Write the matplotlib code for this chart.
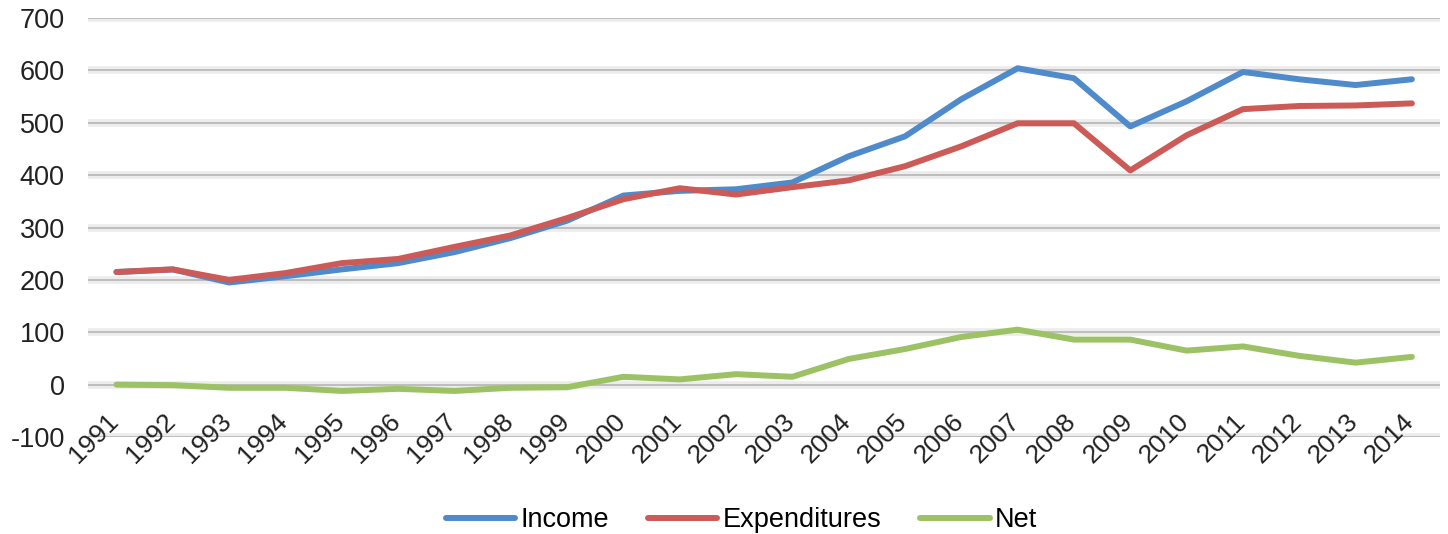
import matplotlib
matplotlib.use("Agg")
import matplotlib.pyplot as plt
import matplotlib.transforms as mtransforms
import numpy as np

years = [str(y) for y in range(1991, 2015)]
income = [215, 220, 195, 207, 220, 232, 253, 280, 313, 361, 370, 373,
          386, 436, 474, 545, 604, 585, 493, 541, 597, 583, 572, 583]
expenditures = [215, 220, 200, 213, 232, 240, 263, 285, 318, 354, 375, 363,
                377, 390, 417, 455, 499, 499, 409, 476, 526, 532, 533, 537]
net = [0, -1, -6, -6, -12, -8, -12, -6, -5, 15, 10, 20,
       15, 49, 68, 91, 105, 86, 86, 65, 73, 55, 42, 53]
y_ticks = [-100, 0, 100, 200, 300, 400, 500, 600, 700]

plt.rcParams["font.family"] = ["Liberation Sans", "DejaVu Sans"]

fig = plt.figure(figsize=(14.48, 5.34), dpi=100)
ax = fig.add_axes([0.061, 0.1816, 0.9335, 0.7847])

x = np.arange(len(years))
ax.set_xlim(-0.5, len(years) - 0.5)
ax.set_ylim(-100, 700)

# soft two-tone gridlines
for v in y_ticks:
    ax.axhline(v, color="#ECECEC", lw=5.5, zorder=0.5, solid_capstyle="butt")
    ax.axhline(v, color="#BDBDBD", lw=1.4, zorder=0.6, solid_capstyle="butt")

lw = 4.3
ax.plot(x, income, color="#4F8BCB", lw=lw, label="Income",
        solid_joinstyle="round", solid_capstyle="round", zorder=3)
ax.plot(x, expenditures, color="#CC5B57", lw=lw, label="Expenditures",
        solid_joinstyle="round", solid_capstyle="round", zorder=4)
ax.plot(x, net, color="#9DC265", lw=lw, label="Net",
        solid_joinstyle="round", solid_capstyle="round", zorder=3)

for s in ax.spines.values():
    s.set_visible(False)

ax.set_yticks(y_ticks)
ax.set_yticklabels([str(v) for v in y_ticks], fontsize=19.5, color="#222222")
ax.tick_params(axis="y", length=0, pad=17)

ax.set_xticks(x)
ax.set_xticklabels(years, fontsize=19, color="#222222", rotation=45,
                   ha="right", rotation_mode="default")
ax.tick_params(axis="x", length=0, pad=-20)
shift = mtransforms.ScaledTranslation(7 / 100, 0, fig.dpi_scale_trans)
for lab in ax.get_xticklabels():
    lab.set_transform(lab.get_transform() + shift)

fig.legend(loc="center", bbox_to_anchor=(0.512, 0.026), ncol=3, frameon=False,
           fontsize=19.5, handlelength=2.55, handletextpad=0.2,
           columnspacing=1.45)

fig.savefig("out.png", dpi=100, facecolor="white")
